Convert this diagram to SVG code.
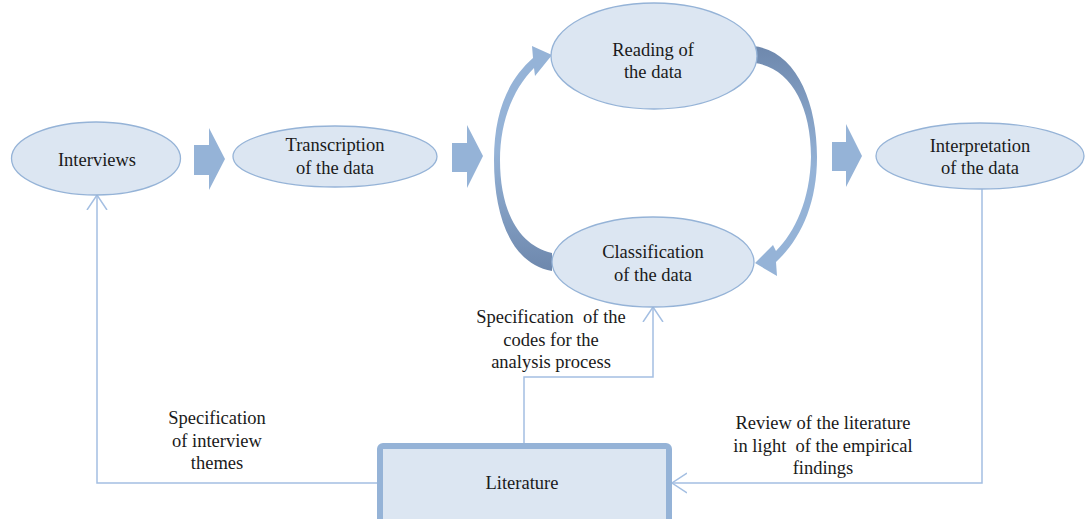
<svg xmlns="http://www.w3.org/2000/svg" width="1085" height="519" viewBox="0 0 1085 519">
  <style>
    .node { fill: #dce6f2; stroke: #95b3d7; stroke-width: 1.3; }
    .box { fill: #dce6f2; stroke: #95b3d7; stroke-width: 6; }
    .block { fill: #95b3d7; }
    .link { fill: none; stroke: #a4bfe2; stroke-width: 1.5; }
    text { font-family: "Liberation Serif", "Times New Roman", serif; font-size: 18.5px; fill: #1a1a1a; text-anchor: middle; white-space: pre; }
  </style>
  <defs>
    <marker id="open" viewBox="0 0 16 22" refX="15" refY="11" markerWidth="16" markerHeight="22" markerUnits="userSpaceOnUse" orient="auto">
      <path d="M0 1 L15 11 L0 21" fill="none" stroke="#a4bfe2" stroke-width="1.5"/>
    </marker>
    <linearGradient id="arcLeft" gradientUnits="userSpaceOnUse" x1="0" y1="270" x2="0" y2="150">
      <stop offset="0" stop-color="#6e88ad"/>
      <stop offset="1" stop-color="#95b3d7"/>
    </linearGradient>
    <linearGradient id="arcRight" gradientUnits="userSpaceOnUse" x1="0" y1="46" x2="0" y2="170">
      <stop offset="0" stop-color="#6e88ad"/>
      <stop offset="1" stop-color="#95b3d7"/>
    </linearGradient>
  </defs>

  <!-- connectors -->
  <g id="connectors">
    <!-- block arrows along the main flow -->
    <polygon class="block" points="194,145 209,145 209,128 225,159 209,190 209,175 194,175"/>
    <polygon class="block" points="452,143 467,143 467,125 483,156 467,188 467,172 452,172"/>
    <polygon class="block" points="832,142 846,142 846,124 862,156 846,187 846,171 832,171"/>
    <!-- curved loop arrows between reading and classification -->
    <path fill="url(#arcLeft)" d="M552 271 C512 264 494 218 494 160 C494 112 508 80 533 58 L532 46 L552 55 L535 76 L534 68 C514 88 500 120 500 160 C500 210 518 245 552 253 Z"/>
    <path fill="url(#arcRight)" d="M753 46 C795 50 817 100 817 157 C817 205 800 240 776 262 L777 276 L755 263 L773 245 L776 251 C795 232 810 200 811 157 C811 105 790 68 755 63 Z"/>
    <!-- literature links -->
    <polyline class="link" marker-end="url(#open)" points="377,483 97,483 97,195"/>
    <polyline class="link" marker-end="url(#open)" points="524,443 524,377 653,377 653,307"/>
    <polyline class="link" marker-end="url(#open)" points="982,189 982,483 672,483"/>
  </g>

  <g id="interviews">
    <ellipse class="node" cx="96" cy="158.5" rx="84.5" ry="36.5"/>
    <text x="97" y="166">Interviews</text>
  </g>

  <g id="transcription">
    <ellipse class="node" cx="335" cy="156.5" rx="102" ry="30.5"/>
    <text x="335" y="151">Transcription</text>
    <text x="335" y="174">of the data</text>
  </g>

  <g id="reading">
    <ellipse class="node" cx="654" cy="56" rx="103" ry="53"/>
    <text x="653" y="56">Reading of</text>
    <text x="653" y="78">the data</text>
  </g>

  <g id="classification">
    <ellipse class="node" cx="653" cy="262" rx="101" ry="45"/>
    <text x="653" y="258">Classification</text>
    <text x="653" y="281">of the data</text>
  </g>

  <g id="interpretation">
    <ellipse class="node" cx="980" cy="156" rx="104" ry="33"/>
    <text x="980" y="152">Interpretation</text>
    <text x="980" y="174">of the data</text>
  </g>

  <g id="literature">
    <rect class="box" x="380" y="446" width="289" height="85" rx="3"/>
    <text x="522" y="489">Literature</text>
  </g>

  <g id="labels">
    <text x="551" y="323">Specification  of the</text>
    <text x="551" y="346">codes for the</text>
    <text x="551" y="368">analysis process</text>
    <text x="217" y="424">Specification</text>
    <text x="217" y="447">of interview</text>
    <text x="217" y="469">themes</text>
    <text x="823" y="429">Review of the literature</text>
    <text x="823" y="452">in light  of the empirical</text>
    <text x="823" y="474">findings</text>
  </g>
</svg>
